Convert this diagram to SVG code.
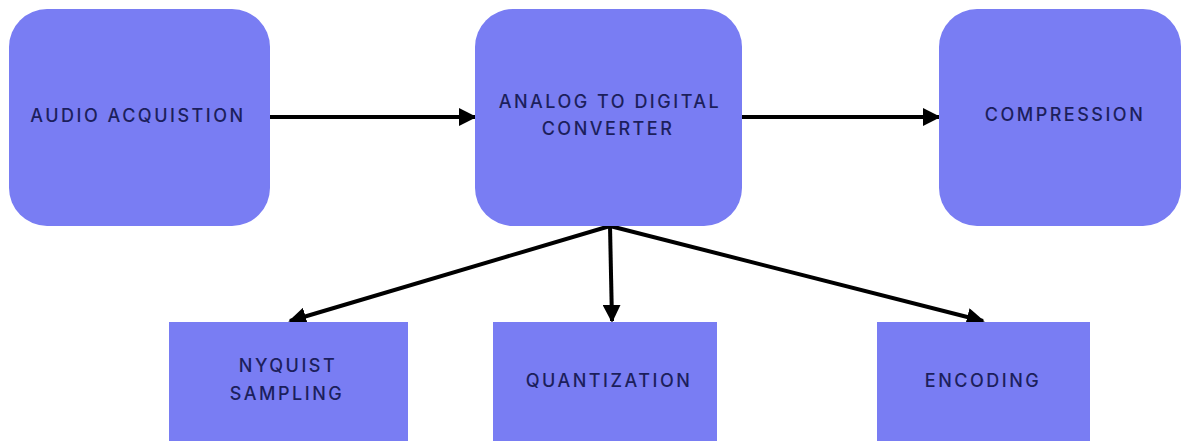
<svg xmlns="http://www.w3.org/2000/svg" width="1181" height="441" viewBox="0 0 1181 441">
<style>
.box{fill:#797df3}
.lbl{font-family:Inter,"Liberation Sans",Arial,sans-serif;font-size:18px;font-weight:500;fill:#1c1f5c;letter-spacing:2.5px;text-anchor:middle;dominant-baseline:central}
.conn{stroke:#000;stroke-width:4;fill:none}
</style>
<defs>
<marker id="ah" viewBox="0 0 10 10" refX="9" refY="5" markerWidth="18" markerHeight="18" markerUnits="userSpaceOnUse" orient="auto">
<path d="M0,0 L10,5 L0,10 z" fill="#000"/>
</marker>
</defs>
<rect width="1181" height="441" fill="#fff"/>
<g id="connectors">
<line class="conn" x1="264" y1="117" x2="475" y2="117" marker-end="url(#ah)"/>
<line class="conn" x1="742" y1="117" x2="939" y2="117" marker-end="url(#ah)"/>
<line class="conn" x1="610" y1="226" x2="290" y2="321" marker-end="url(#ah)"/>
<line class="conn" x1="610" y1="226" x2="612" y2="321" marker-end="url(#ah)"/>
<line class="conn" x1="610" y1="226" x2="983" y2="321" marker-end="url(#ah)"/>
</g>
<g id="audio">
<rect class="box" x="9" y="9" width="261" height="217" rx="38"/>
<text class="lbl" x="138" y="115">AUDIO ACQUISTION</text>
</g>
<g id="adc">
<rect class="box" x="475" y="9" width="267" height="217" rx="38"/>
<text class="lbl" x="610" y="101">ANALOG TO DIGITAL</text>
<text class="lbl" x="608" y="128">CONVERTER</text>
</g>
<g id="compression">
<rect class="box" x="939" y="9" width="242" height="217" rx="38"/>
<text class="lbl" x="1065" y="114">COMPRESSION</text>
</g>
<g id="nyquist">
<rect class="box" x="169" y="322" width="239" height="119"/>
<text class="lbl" x="288" y="365">NYQUIST</text>
<text class="lbl" x="287" y="393">SAMPLING</text>
</g>
<g id="quantization">
<rect class="box" x="493" y="322" width="224" height="119"/>
<text class="lbl" x="609" y="380">QUANTIZATION</text>
</g>
<g id="encoding">
<rect class="box" x="877" y="322" width="213" height="119"/>
<text class="lbl" x="983" y="380">ENCODING</text>
</g>
</svg>
